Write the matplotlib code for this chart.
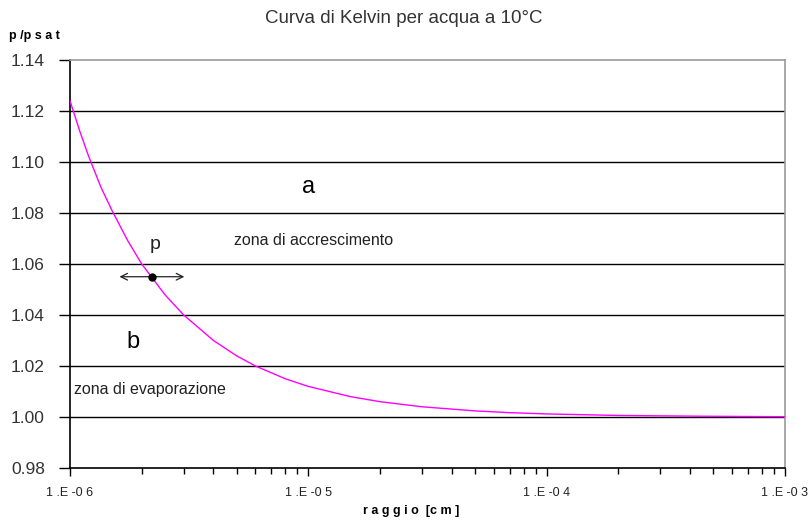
import numpy as np
from matplotlib import pyplot as plt
from matplotlib.ticker import FixedLocator, LogLocator, NullFormatter

plt.rcParams['font.family'] = ['Liberation Sans', 'DejaVu Sans']

# Kelvin curve, values
raggio = [1.0e-6, 1.1e-6, 1.2e-6, 1.35e-6, 1.5e-6, 1.75e-6, 2.0e-6, 2.5e-6,
          3.0e-6, 4.0e-6, 5.0e-6, 6.0e-6, 8.0e-6, 1.0e-5, 1.5e-5, 2.0e-5,
          3.0e-5, 5.0e-5, 7.0e-5, 1.0e-4, 2.0e-4, 4.5e-4, 1.0e-3]
p_psat = [1.124, 1.112, 1.102, 1.090, 1.081, 1.069, 1.060, 1.048,
          1.040, 1.030, 1.024, 1.020, 1.015, 1.012, 1.008, 1.006,
          1.004, 1.0024, 1.0017, 1.0012, 1.0006, 1.0003, 1.0001]

y_ticks = [0.98, 1.00, 1.02, 1.04, 1.06, 1.08, 1.10, 1.12, 1.14]
x_ticks = [1e-6, 1e-5, 1e-4, 1e-3]
x_labels = ['1 .E -0 6', '1 .E -0 5', '1 .E -0 4', '1 .E -0 3']

# point p on the curve
p_r, p_val = 2.21e-6, 1.055
arrow_r = [1.57e-6, 3.1e-6]

fig = plt.figure(figsize=(8.09, 5.20), dpi=100)
ax = fig.add_axes([0.0865, 0.1, 0.8838, 0.7847])

# gridlines
for y in y_ticks[1:-1]:
    ax.axhline(y, color='black', lw=1.0, zorder=1)

ax.plot(raggio, p_psat, color='#FF00FF', lw=1.0, zorder=3)

ax.set_xscale('log')
ax.set_xlim(1e-6, 1e-3)
ax.set_ylim(0.98, 1.14)

ax.yaxis.set_major_locator(FixedLocator(y_ticks))
ax.set_yticklabels(['%.2f' % v for v in y_ticks], fontsize=12.5, color='#333333')
ax.set_xticks(x_ticks)
ax.set_xticklabels(x_labels, fontsize=9, color='#222222')
ax.xaxis.set_minor_locator(LogLocator(base=10, subs=np.arange(2, 10)))
ax.xaxis.set_minor_formatter(NullFormatter())
ax.tick_params(axis='y', direction='out', length=8, width=1, pad=10)
ax.tick_params(axis='x', which='major', direction='out', length=6, width=1, pad=8)
ax.tick_params(axis='x', which='minor', direction='out', length=4, width=1)

for s in ['left', 'bottom']:
    ax.spines[s].set_color('black')
    ax.spines[s].set_linewidth(1.2)
for s in ['top', 'right']:
    ax.spines[s].set_color('#999999')
    ax.spines[s].set_linewidth(1.2)

fig.text(0.508, 0.018, 'r a g g i o  [c m ]', fontsize=9, fontweight='bold',
         ha='center', va='center')
fig.text(0.0425, 0.93, 'p /p s a t', fontsize=9, fontweight='bold', ha='center', va='center')
fig.text(0.4995, 0.965, 'Curva di Kelvin per acqua a 10°C', fontsize=13.5, color='#333333',
         ha='center', va='center')

# annotations
ax.text(1.0e-5, 1.090, 'a', fontsize=17, ha='center', va='center')
ax.text(1.05e-5, 1.0694, 'zona di accrescimento', fontsize=11.5, ha='center', va='center', color='#222222')
ax.text(1.84e-6, 1.0294, 'b', fontsize=17, ha='center', va='center')
ax.text(2.17e-6, 1.0106, 'zona di evaporazione', fontsize=11.5, ha='center', va='center', color='#222222')
ax.text(2.27e-6, 1.0678, 'p', fontsize=14, ha='center', va='center', color='#222222')

ax.annotate('', xy=(arrow_r[0], p_val), xytext=(arrow_r[1], p_val),
            arrowprops=dict(arrowstyle='<->', color='#222222', lw=0.9, mutation_scale=12),
            zorder=4)
ax.plot([p_r], [p_val], 'o', color='black', ms=5, zorder=5)

fig.savefig('out.png', dpi=100)
